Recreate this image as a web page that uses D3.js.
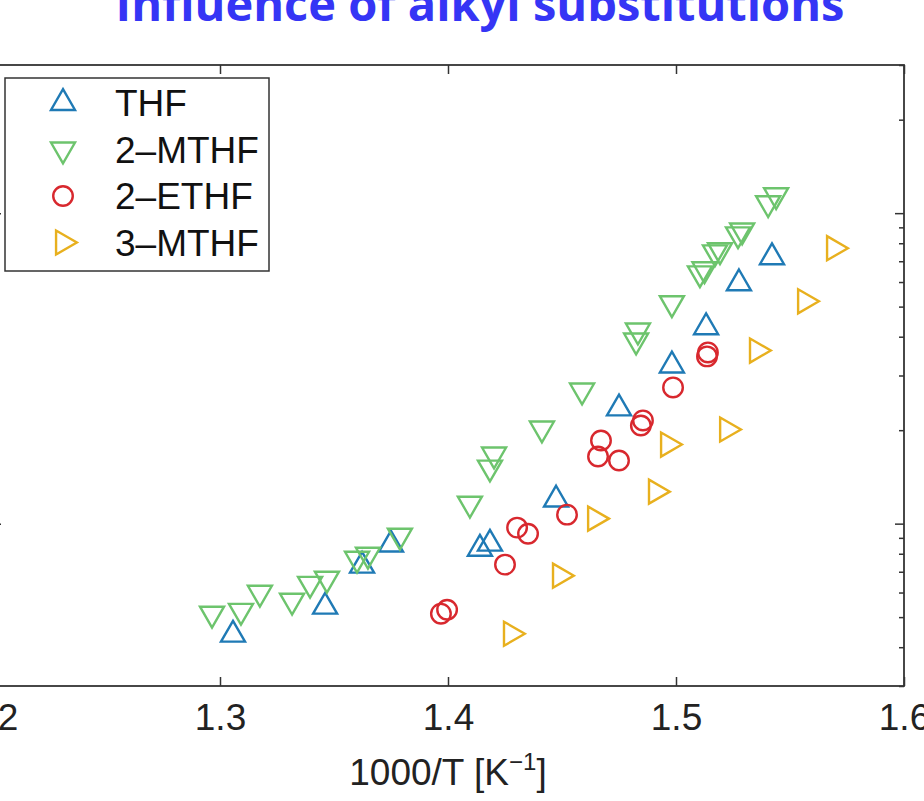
<!DOCTYPE html>
<html>
<head>
<meta charset="utf-8">
<script src="https://cdn.jsdelivr.net/npm/d3@7/dist/d3.min.js"></script>
<style>
  body { margin: 0; background: #fff; }
  svg { display: block; font-family: "Liberation Sans", Arial, Helvetica, sans-serif; }
</style>
</head>
<body>
<svg id="chart" width="924" height="801"></svg>
<script>
// 1000/T [1/K] and ignition delay (log axis, labels cropped in the source)
const thfX = [1.3057, 1.3461, 1.3623, 1.3750, 1.4140, 1.4184, 1.4474, 1.4750, 1.4982, 1.5132, 1.5276, 1.5421];
const thfY = [43.9, 54.0, 73.2, 85.6, 83.0, 86.2, 119.5, 235, 323, 429, 594, 721];

const mthf2X = [1.2965, 1.3092, 1.3175, 1.3316, 1.3395, 1.3469, 1.3601, 1.3649, 1.3789, 1.4096, 1.4184, 1.4202,
  1.4412, 1.4588, 1.4825, 1.4833, 1.4982, 1.5105, 1.5125, 1.5171, 1.5193, 1.5272, 1.5290, 1.5404, 1.5439];
const mthf2Y = [51.3, 52.4, 59.9, 56.5, 64.0, 66.5, 77.1, 79.4, 91.5, 116, 151.6, 167,
  202.5, 268.5, 389, 419, 513, 640, 660, 748, 760, 855, 880, 1077, 1143];

const ethf2X = [1.3969, 1.3996, 1.4250, 1.4303, 1.4351, 1.4522, 1.4658, 1.4671, 1.4750, 1.4846, 1.4855, 1.4987, 1.5136, 1.5140];
const ethf2Y = [51.3, 52.8, 73.8, 97.1, 92.8, 106.9, 164.5, 185.3, 159.7, 207, 215, 274.6, 345.7, 356];

const mthf3X = [1.4276, 1.4491, 1.4645, 1.4912, 1.4965, 1.5224, 1.5355, 1.5566, 1.5693];
const mthf3Y = [44.2, 68.0, 103.8, 126.8, 179.8, 201, 361, 520, 771];

const seriesNames = ['THF', '2\u2013MTHF', '2\u2013ETHF', '3\u2013MTHF'];
const seriesColors = ['#1f7ab5', '#6dc46d', '#d8282e', '#e8b01e'];
const xTicks = [1.2, 1.3, 1.4, 1.5, 1.6];
const xDomain = [1.2, 1.6];
const yDomain = [30, 3000];
const titleText = 'Influence of alkyl substitutions';

const W = 924, H = 801;
const M = { top: 65, right: 20, bottom: 115, left: -8 };
const iw = W - M.left - M.right, ih = H - M.top - M.bottom;

const svg = d3.select('#chart');

svg.append('text')
  .attr('x', 480).attr('y', 21)
  .attr('text-anchor', 'middle')
  .attr('font-family', '"Open Sans", "Liberation Sans", Arial, sans-serif')
  .attr('font-weight', 'bold')
  .attr('font-size', 47)
  .attr('fill', '#3535f5')
  .text(titleText);

const g = svg.append('g').attr('transform', `translate(${M.left},${M.top})`);

const x = d3.scaleLinear().domain(xDomain).range([0, iw]);
const y = d3.scaleLog().domain(yDomain).range([ih, 0]);

// log ticks: majors at decades, minors at 2..9
const majors = [100, 1000];
const minors = [];
for (const d of [10, 100, 1000]) for (let k = 2; k <= 9; k++) {
  const v = d * k;
  if (v >= yDomain[0] && v <= yDomain[1]) minors.push(v);
}

const axisStyle = (sel) => {
  sel.selectAll('.domain').remove();
  sel.selectAll('line').attr('stroke', '#333').attr('stroke-width', 1.5);
  sel.selectAll('text').attr('fill', '#222').attr('font-size', 37)
    .attr('font-family', '"Liberation Sans", Arial, sans-serif');
};

g.append('g').attr('transform', `translate(0,${ih})`)
  .call(d3.axisBottom(x).tickValues(xTicks).tickSizeInner(-9).tickSizeOuter(0).tickPadding(18)
    .tickFormat(d3.format('.1f')))
  .call(axisStyle);
g.append('g')
  .call(d3.axisTop(x).tickValues(xTicks).tickSizeInner(-9).tickSizeOuter(0).tickFormat(''))
  .call(axisStyle);

for (const [ticks, len] of [[majors, 9], [minors, 5]]) {
  g.append('g').call(d3.axisLeft(y).tickValues(ticks).tickSizeInner(-len).tickSizeOuter(0).tickFormat('')).call(axisStyle);
  g.append('g').attr('transform', `translate(${iw},0)`)
    .call(d3.axisRight(y).tickValues(ticks).tickSizeInner(-len).tickSizeOuter(0).tickFormat('')).call(axisStyle);
}

g.append('rect')
  .attr('width', iw).attr('height', ih)
  .attr('fill', 'none').attr('stroke', '#333').attr('stroke-width', 1.8);

// x label
const xl = g.append('text')
  .attr('x', x(1.4)).attr('y', ih + 99)
  .attr('text-anchor', 'middle')
  .attr('font-size', 37).attr('fill', '#222');
xl.append('tspan').text('1000/T [K');
xl.append('tspan').attr('dy', -15).attr('font-size', 24).text('\u22121');
xl.append('tspan').attr('dy', 15).text(']');

// markers
const triArea = 250;
const symbols = [
  { type: d3.symbolTriangle, rot: 0, size: triArea },
  { type: d3.symbolTriangle, rot: 180, size: triArea },
  { type: d3.symbolCircle, rot: 0, size: 300 },
  { type: d3.symbolTriangle, rot: 90, size: triArea },
];
const allSeries = [[thfX, thfY], [mthf2X, mthf2Y], [ethf2X, ethf2Y], [mthf3X, mthf3Y]];

allSeries.forEach(([xs, ys], i) => {
  const s = symbols[i];
  const pts = xs.map((v, j) => ({ x: v, y: ys[j] }));
  g.append('g').selectAll('path').data(pts).join('path')
    .attr('d', d3.symbol().type(s.type).size(s.size))
    .attr('transform', (d) => `translate(${x(d.x)},${y(d.y)}) rotate(${s.rot})`)
    .attr('fill', 'none')
    .attr('stroke', seriesColors[i])
    .attr('stroke-width', 2.4);
});

// legend
const lg = svg.append('g').attr('transform', 'translate(5,78)');
lg.append('rect').attr('width', 264).attr('height', 193)
  .attr('fill', '#fff').attr('stroke', '#333').attr('stroke-width', 1.5);
seriesNames.forEach((name, i) => {
  const cy = 25 + i * 46.5;
  const s = symbols[i];
  lg.append('path')
    .attr('d', d3.symbol().type(s.type).size(s.size)())
    .attr('transform', `translate(58,${cy}) rotate(${s.rot})`)
    .attr('fill', 'none').attr('stroke', seriesColors[i]).attr('stroke-width', 2.4);
  lg.append('text')
    .attr('x', 110).attr('y', cy).attr('dy', '0.36em')
    .attr('font-size', 37).attr('fill', '#111')
    .text(name);
});
</script>
</body>
</html>
